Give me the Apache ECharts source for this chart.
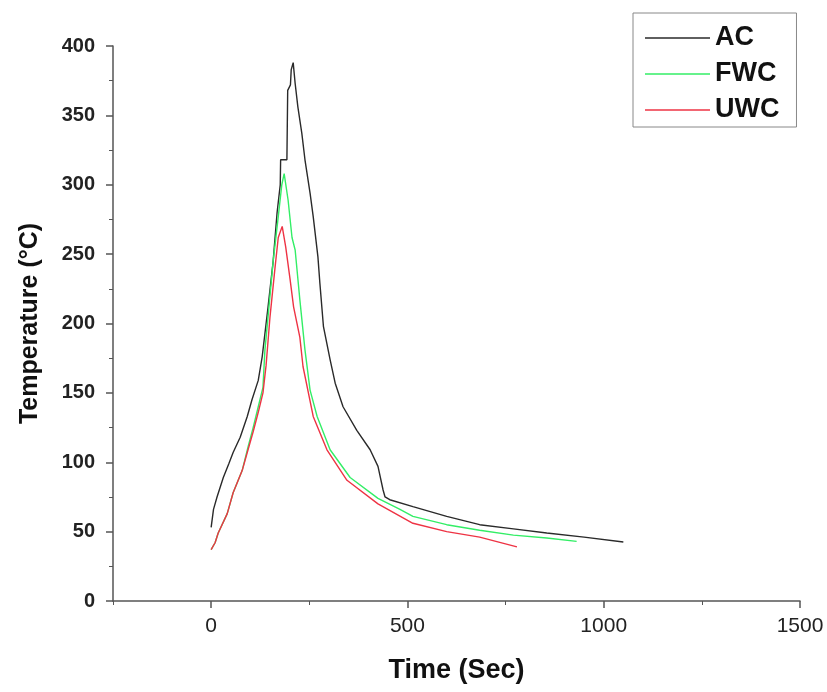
<!DOCTYPE html>
<html>
<head>
<meta charset="utf-8">
<script src="https://cdn.jsdelivr.net/npm/echarts@6/dist/echarts.min.js"></script>
<style>html,body{margin:0;padding:0;background:#fff}#c{width:827px;height:692px}</style>
</head>
<body>
<div id="c"></div>
<script>
// Data: [time (s), temperature (°C)]
const acData = [[0,53],[5,53],[6,66],[15,75],[31,89],[45,99],[56,107],[74,118],[92,133],[104,145],[120,159],[130,176],[145,212],[158,245],[168,280],[176,300],[177,318],[193,318],[195,368],[202,372],[204,383],[209,388],[214,373],[221,356],[231,337],[239,318],[252,294],[260,277],[272,248],[277,229],[286,198],[303,174],[316,157],[336,140],[371,123],[405,109],[425,97],[438,80],[443,75],[455,73],[514,68],[600,61],[684,55],[770,52],[855,49],[950,46],[1050,42.5]];
const fwcData = [[0,37],[5,37],[10,42],[18,49],[41,63],[56,78],[79,94],[94,111],[107,125],[120,140],[132,154],[137,181],[145,205],[158,245],[171,277],[180,300],[186,308],[196,289],[206,262],[214,253],[226,217],[239,181],[252,152],[270,133],[303,109],[354,89],[425,74],[481,66],[514,61],[600,55],[684,51],[770,47.5],[855,45.4],[931,43]];
const uwcData = [[0,37],[5,37],[10,42],[18,49],[41,63],[56,78],[79,94],[94,109],[107,122],[120,136],[132,150],[140,170],[150,205],[163,241],[171,262],[181,270],[190,255],[201,232],[210,212],[226,190],[234,169],[260,133],[295,109],[346,87],[425,70],[514,56],[600,50],[684,46],[779,39]];
const seriesNames = ['AC','FWC','UWC'];
const xMajorTicks = [0,500,1000,1500];
const xMinorTicks = [-250,250,750,1250];
const xName = 'Time (Sec)';
const yName = 'Temperature (°C)';

const chart = echarts.init(document.getElementById('c'), null, {renderer:'canvas'});
const axisColor = '#555';
const font = 'Liberation Sans, Arial';
chart.setOption({
  animation:false,
  backgroundColor:'#fff',
  grid:{left:113,right:27,top:46,bottom:91},
  legend:{
    data:seriesNames.map(n=>({name:n,icon:'rect'})),
    orient:'vertical',
    left:633, top:13,
    padding:[11,17,3,12],
    itemWidth:65, itemHeight:1.5, itemGap:8, itemTextGap:12,
    borderColor:'#888', borderWidth:1,
    textStyle:{fontFamily:font, fontSize:27, fontWeight:'bold', color:'#111', lineHeight:28}
  },
  xAxis:[{
    type:'value', min:-250, max:1500,
    splitLine:{show:false},
    axisLine:{show:true,onZero:false,lineStyle:{color:axisColor,width:1.5}},
    axisTick:{show:true,customValues:xMajorTicks,length:7,lineStyle:{color:axisColor,width:1.5}},
    axisLabel:{customValues:xMajorTicks,margin:15,fontFamily:font,fontSize:21,color:'#222',formatter:v=>String(v)},
    name:xName, nameLocation:'middle', nameGap:56,
    nameTextStyle:{fontFamily:font,fontSize:27,fontWeight:'bold',color:'#111'}
  },{
    type:'value', min:-250, max:1500, position:'bottom',
    splitLine:{show:false},
    axisLine:{show:false},
    axisTick:{show:true,customValues:xMinorTicks,length:4,lineStyle:{color:axisColor,width:1}},
    axisLabel:{show:false}
  }],
  yAxis:{
    type:'value', min:0, max:400, interval:50,
    splitLine:{show:false},
    axisLine:{show:true,onZero:false,lineStyle:{color:axisColor,width:1.5}},
    axisTick:{show:true,length:7,lineStyle:{color:axisColor,width:1.5}},
    minorTick:{show:true,splitNumber:2,length:4,lineStyle:{color:axisColor,width:1}},
    axisLabel:{margin:18,fontFamily:font,fontSize:20,fontWeight:'bold',color:'#222'},
    name:yName, nameLocation:'middle', nameGap:70,
    nameTextStyle:{fontFamily:font,fontSize:25,fontWeight:'bold',color:'#111'}
  },
  series:[
    {name:'AC',type:'line',data:acData,symbol:'none',lineStyle:{color:'#2a2a2a',width:1.4},itemStyle:{color:'#2a2a2a'}},
    {name:'FWC',type:'line',data:fwcData,symbol:'none',lineStyle:{color:'#33ee66',width:1.4},itemStyle:{color:'#33ee66'}},
    {name:'UWC',type:'line',data:uwcData,symbol:'none',lineStyle:{color:'#ee3344',width:1.4},itemStyle:{color:'#ee3344'}}
  ]
});
</script>
</body>
</html>
